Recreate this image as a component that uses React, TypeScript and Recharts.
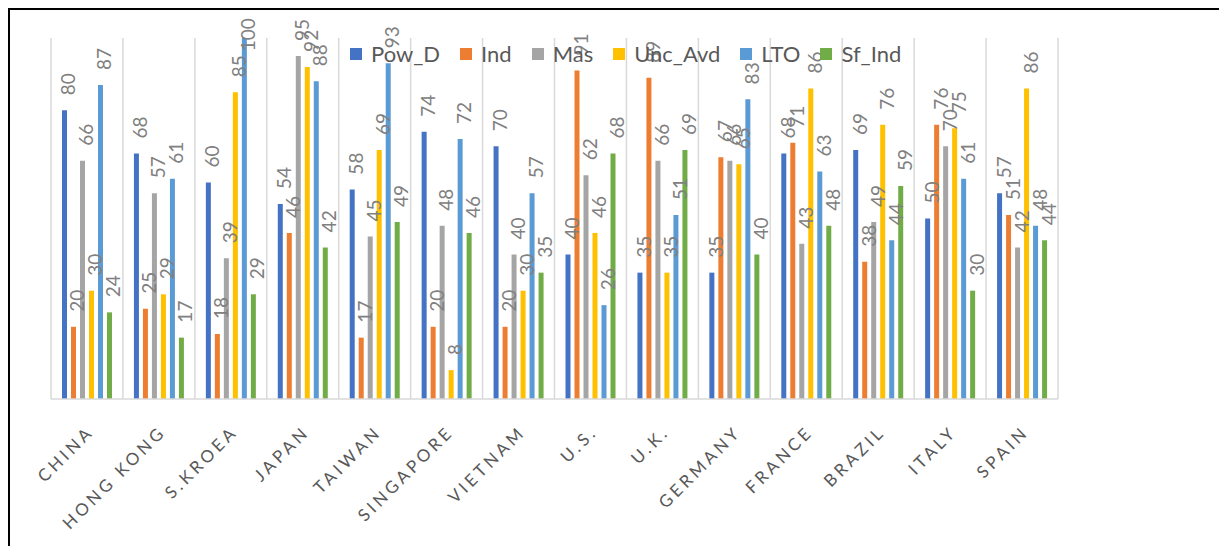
import { BarChart, Bar, XAxis, YAxis, CartesianGrid, Legend, LabelList } from "recharts";

const countries = ["CHINA", "HONG KONG", "S.KROEA", "JAPAN", "TAIWAN", "SINGAPORE", "VIETNAM", "U.S.", "U.K.", "GERMANY", "FRANCE", "BRAZIL", "ITALY", "SPAIN"];

const powD = [80, 68, 60, 54, 58, 74, 70, 40, 35, 35, 68, 69, 50, 57];
const ind = [20, 25, 18, 46, 17, 20, 20, 91, 89, 67, 71, 38, 76, 51];
const mas = [66, 57, 39, 95, 45, 48, 40, 62, 66, 66, 43, 49, 70, 42];
const uncAvd = [30, 29, 85, 92, 69, 8, 30, 46, 35, 65, 86, 76, 75, 86];
const lto = [87, 61, 100, 88, 93, 72, 57, 26, 51, 83, 63, 44, 61, 48];
const sfInd = [24, 17, 29, 42, 49, 46, 35, 68, 69, 40, 48, 59, 30, 44];

const series = [
    { key: "Pow_D", values: powD, color: "#4472C4" },
    { key: "Ind", values: ind, color: "#ED7D31" },
    { key: "Mas", values: mas, color: "#A5A5A5" },
    { key: "Unc_Avd", values: uncAvd, color: "#FFC000" },
    { key: "LTO", values: lto, color: "#5B9BD5" },
    { key: "Sf_Ind", values: sfInd, color: "#70AD47" },
];

const data = countries.map((name, i) => {
    const row: any = { name };
    series.forEach(s => { row[s.key] = s.values[i]; });
    return row;
});

const FONT = "Lato, 'Noto Sans', sans-serif";

// vertical separators between the country groups
function groupLines({ offset }: any) {
    const step = offset.width / countries.length;
    const lines = countries.map((_, i) => offset.left + i * step);
    lines.push(offset.left + offset.width);
    return lines;
}

// value labels sit above the bar, rotated; pushed down when they'd run off the top
function renderValue(props: any) {
    const box = props.viewBox || props;
    const x = Number(box.x);
    const y = Number(box.y);
    const w = Number(box.width);
    const text = String(props.value);
    const len = text.length * 10.4;
    const bottom = Math.max(y - 15, 10 + len);
    const cx = x + w / 2 + 3.5;
    return (
        <text x={cx} y={bottom} transform={`rotate(-90 ${cx} ${bottom})`} textAnchor="start"
            dominantBaseline="central" fill="#808080" fontSize={19} fontFamily={FONT}>
            {text}
        </text>
    );
}

function CountryTick({ x, y, payload }: any) {
    return (
        <g transform={`translate(${x + 8},${y + 34})`}>
            <text textAnchor="end" transform="rotate(-45)" fill="#595959" fontSize={17}
                fontFamily={FONT} letterSpacing={3.5}>
                {payload.value}
            </text>
        </g>
    );
}

function LegendBox() {
    return (
        <div style={{ display: "flex", alignItems: "center", fontFamily: FONT, fontSize: 22, color: "#595959", whiteSpace: "nowrap" }}>
            {series.map(s => (
                <div key={s.key} style={{ display: "flex", alignItems: "center", marginRight: 20 }}>
                    <span style={{ width: 12, height: 12, background: s.color, marginRight: 9, display: "inline-block" }} />
                    <span>{s.key}</span>
                </div>
            ))}
        </div>
    );
}

function App() {
    return (
        <div style={{ marginTop: -1, marginLeft: -1, width: 1222, height: 540, borderTop: "3px solid #000", borderLeft: "3px solid #000", background: "#fff" }}>
            <BarChart width={1217} height={537} data={data} barSize={5} barGap={4}
                margin={{ top: 28, right: 169, left: 41, bottom: 108 }}>
                <CartesianGrid horizontal={false} stroke="#D9D9D9" strokeWidth={1.5}
                    verticalCoordinatesGenerator={groupLines} />
                <XAxis dataKey="name" interval={0} tickLine={false} tickSize={0} tickMargin={0}
                    axisLine={{ stroke: "#D9D9D9", strokeWidth: 1.5 }} height={40} tick={<CountryTick />} />
                <YAxis hide domain={[0, 100]} />
                <Legend layout="horizontal" verticalAlign="middle" align="center" content={<LegendBox />}
                    wrapperStyle={{ left: 340, top: 30, width: "auto", height: "auto" }} />
                {series.map(s => (
                    <Bar key={s.key} dataKey={s.key} fill={s.color} isAnimationActive={false}>
                        <LabelList dataKey={s.key} content={renderValue} />
                    </Bar>
                ))}
            </BarChart>
        </div>
    );
}

export default App;
